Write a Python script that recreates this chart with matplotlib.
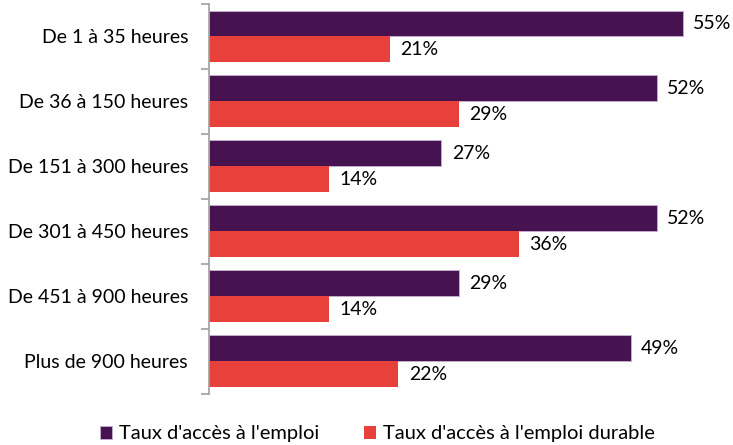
import numpy as np
import matplotlib.pyplot as plt

# categories et valeurs (%)
categories = ["De 1 à 35 heures", "De 36 à 150 heures", "De 151 à 300 heures",
              "De 301 à 450 heures", "De 451 à 900 heures", "Plus de 900 heures"]
emploi = [55, 52, 27, 52, 29, 49]
emploi_durable = [21, 29, 14, 36, 14, 22]
series = ["Taux d'accès à l'emploi", "Taux d'accès à l'emploi durable"]

violet = "#46124f"
rouge = "#e8413b"

plt.rcParams['font.family'] = ['Lato', 'DejaVu Sans']

fig = plt.figure(figsize=(7.33, 4.45), dpi=100)
ax = fig.add_axes([0.285, 0.115, 0.705, 0.876])

n = len(categories)
y = np.arange(n)
h = 0.4
ax.barh(y - h / 2, emploi, height=h, color=violet, edgecolor='#c9b3d2', linewidth=0.6,
        label=series[0])
ax.barh(y + h / 2, emploi_durable, height=h, color=rouge, label=series[1])

for i in range(n):
    ax.text(emploi[i] + 1.2, y[i] - h / 2, f"{emploi[i]}%", va='center', ha='left',
            fontsize=14, color='black')
    ax.text(emploi_durable[i] + 1.2, y[i] + h / 2, f"{emploi_durable[i]}%", va='center',
            ha='left', fontsize=14, color='black')

ax.set_ylim(n - 0.5, -0.5)
ax.set_xlim(0, 60)

# ticks aux frontières des groupes
ax.set_yticks(np.arange(-0.5, n, 1.0))
ax.set_yticklabels([])
ax.set_yticks(y, minor=True)
ax.set_yticklabels(categories, minor=True, fontsize=14)
ax.tick_params(axis='y', which='minor', length=0, pad=15)
ax.tick_params(axis='y', which='major', length=6, color='#a0a0a0', width=1.2)
ax.set_xticks([])

for s in ['top', 'right', 'bottom']:
    ax.spines[s].set_visible(False)
ax.spines['left'].set_color('#a0a0a0')
ax.spines['left'].set_linewidth(1.2)

fig.legend(loc='lower center', bbox_to_anchor=(0.515, -0.035), ncol=2, frameon=False,
           fontsize=14.5, handlelength=0.6, handleheight=0.6, handletextpad=0.35,
           columnspacing=2.2)

fig.savefig("out.png", dpi=100)
